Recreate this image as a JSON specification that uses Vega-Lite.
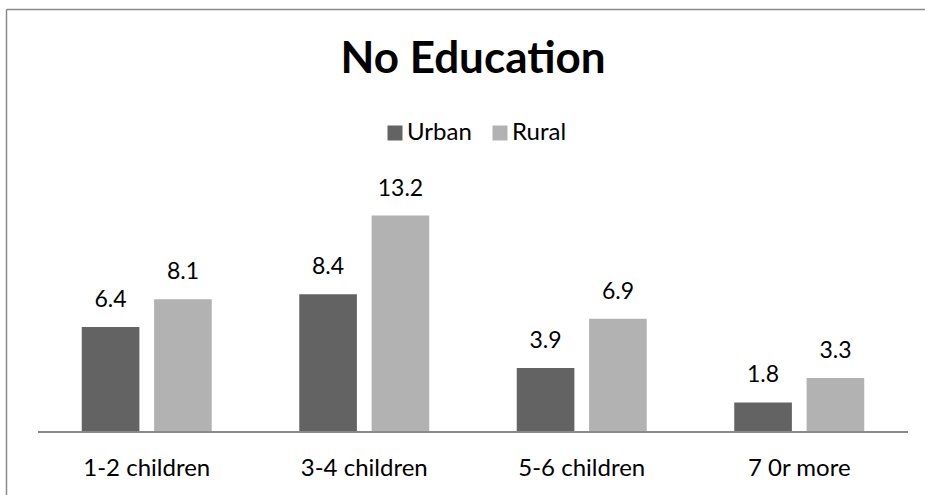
{
  "$schema": "https://vega.github.io/schema/vega-lite/v6.json",
  "width": 934,
  "height": 486,
  "autosize": {"type": "none"},
  "padding": {"left": 6, "top": 9, "right": 0, "bottom": 0},
  "background": "white",
  "config": {
    "view": {"stroke": null},
    "font": "Lato"
  },
  "title": {
    "text": "No Education",
    "fontSize": 44,
    "font": "Lato",
    "fontWeight": "bold",
    "color": "black",
    "anchor": "middle",
    "frame": "group",
    "baseline": "alphabetic",
    "offset": -108
  },
  "data": {
    "values": [
      {"category": "1-2 children", "area": "Urban", "value": 6.4},
      {"category": "1-2 children", "area": "Rural", "value": 8.1},
      {"category": "3-4 children", "area": "Urban", "value": 8.4},
      {"category": "3-4 children", "area": "Rural", "value": 13.2},
      {"category": "5-6 children", "area": "Urban", "value": 3.9},
      {"category": "5-6 children", "area": "Rural", "value": 6.9},
      {"category": "7 0r more", "area": "Urban", "value": 1.8},
      {"category": "7 0r more", "area": "Rural", "value": 3.3}
    ]
  },
  "encoding": {
    "x": {
      "field": "category",
      "type": "nominal",
      "sort": ["1-2 children", "3-4 children", "5-6 children", "7 0r more"],
      "scale": {"paddingInner": 0.4023, "paddingOuter": 0.3483},
      "axis": {
        "title": null,
        "orient": "bottom",
        "offset": -63,
        "domain": false,
        "ticks": false,
        "tickSize": 0,
        "grid": false,
        "labelAngle": 0,
        "labelFont": "Lato",
        "labelFontSize": 24,
        "labelColor": "black",
        "labelBaseline": "alphabetic",
        "labelPadding": 43
      }
    },
    "y": {
      "field": "value",
      "type": "quantitative",
      "scale": {"domain": [-3.841, 25.793], "nice": false, "zero": false},
      "axis": {
        "title": null,
        "orient": "left",
        "values": [25.793],
        "labels": false,
        "ticks": false,
        "domain": true,
        "domainColor": "#8a8a8a",
        "domainWidth": 1.5,
        "grid": true,
        "gridColor": "#8a8a8a",
        "gridWidth": 1.5,
        "gridOpacity": 1
      }
    }
  },
  "layer": [
    {
      "mark": {"type": "bar"},
      "encoding": {
        "xOffset": {
          "field": "area",
          "sort": ["Urban", "Rural"],
          "scale": {"paddingInner": 0.2033, "paddingOuter": 0}
        },
        "y2": {"datum": 0},
        "color": {
          "field": "area",
          "type": "nominal",
          "sort": ["Urban", "Rural"],
          "scale": {"domain": ["Urban", "Rural"], "range": ["#636363", "#b2b2b2"]},
          "legend": {
            "title": null,
            "orient": "none",
            "legendX": 377,
            "legendY": 112,
            "direction": "horizontal",
            "symbolType": "square",
            "symbolSize": 225,
            "symbolStrokeWidth": 0,
            "labelFont": "Lato",
            "labelFontSize": 24,
            "labelColor": "black",
            "labelOffset": 0,
            "columnPadding": 16,
            "padding": 0
          }
        }
      }
    },
    {
      "mark": {"type": "text", "dy": -20, "baseline": "alphabetic", "fontSize": 23, "font": "Lato", "color": "black"},
      "encoding": {
        "xOffset": {
          "field": "area",
          "sort": ["Urban", "Rural"]
        },
        "text": {"field": "value", "type": "quantitative", "format": ".1f"}
      }
    },
    {
      "mark": {"type": "rule", "color": "#8a8a8a", "strokeWidth": 1.5},
      "encoding": {
        "x": {"datum": "1-2 children", "bandPosition": -0.336},
        "x2": {"datum": "7 0r more", "bandPosition": 1.336},
        "y": {"datum": 0}
      }
    }
  ]
}
